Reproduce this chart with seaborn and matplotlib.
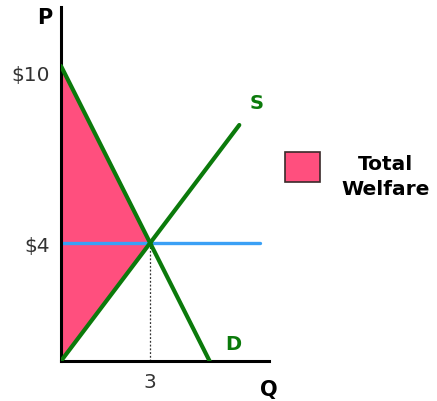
import matplotlib
matplotlib.use("Agg")
import matplotlib.pyplot as plt
import matplotlib.patches as mpatches
import matplotlib.transforms as mtransforms
import seaborn as sns

# Market data
demand_q = [0, 5]
demand_p = [10, 0]
supply_q = [0, 6]
supply_p = [0, 8]
price_q = [0, 6.7]
price_p = [4, 4]
eq_q = 3
eq_p = 4
welfare_q = [0, 0, 3]
welfare_p = [0, 10, 4]
y_ticks = [10, 4]
y_labels = ["$10", "$4"]
x_ticks = [3]
x_labels = ["3"]

sns.set_theme(style="white")
plt.rcParams["font.family"] = ["DejaVu Sans"]

fig = plt.figure(figsize=(4.37, 4.02), dpi=100)
ax = fig.add_axes([61 / 437, 40 / 402, 208 / 437, 354 / 402])

green = "#0b7a0b"
pink = "#ff4f7e"
blue = "#3aa0f5"

ax.fill(welfare_q, welfare_p, color=pink, lw=0, zorder=1)

sns.lineplot(x=price_q, y=price_p, ax=ax, color=blue, lw=2.4, zorder=2)
sns.lineplot(x=demand_q, y=demand_p, ax=ax, color=green, lw=3, zorder=3)
sns.lineplot(x=supply_q, y=supply_p, ax=ax, color=green, lw=3, zorder=3)
ax.plot([eq_q, eq_q], [0, eq_p], color="#333333", lw=0.9, ls=(0, (1.5, 1.5)), zorder=2)

ax.set_xlim(0, 7)
ax.set_ylim(0, 12)
ax.set_xticks(x_ticks)
ax.set_xticklabels(x_labels)
ax.set_yticks(y_ticks)
ax.set_yticklabels(y_labels)
ax.tick_params(axis="y", length=0, labelsize=14.5, colors="#333333", pad=8)
ax.tick_params(axis="x", length=0, labelsize=14.5, colors="#333333", pad=8)
ax.set_xlabel("")
ax.set_ylabel("")

# nudge the price labels slightly downward
top_label = ax.get_yticklabels()[0]
top_label.set_transform(top_label.get_transform() +
                        mtransforms.ScaledTranslation(0, -7 / 100, fig.dpi_scale_trans))
low_label = ax.get_yticklabels()[1]
low_label.set_transform(low_label.get_transform() +
                        mtransforms.ScaledTranslation(0, -1 / 100, fig.dpi_scale_trans))

for side in ["top", "right"]:
    ax.spines[side].set_visible(False)
for side in ["left", "bottom"]:
    ax.spines[side].set_color("black")
    ax.spines[side].set_linewidth(2.2)

ax.text(-0.55, 11.65, "P", fontsize=15, fontweight="bold", color="black",
        ha="center", va="center", clip_on=False)
ax.text(7.0, -0.95, "Q", fontsize=15, fontweight="bold", color="black",
        ha="center", va="center", clip_on=False)
ax.text(6.6, 8.75, "S", fontsize=14, fontweight="bold", color=green, ha="center", va="center")
ax.text(5.8, 0.6, "D", fontsize=14, fontweight="bold", color=green, ha="center", va="center")

# Legend entry
patch = mpatches.Rectangle((285 / 437, 1 - 183 / 402), 35 / 437, 30 / 402,
                           transform=fig.transFigure, facecolor=pink,
                           edgecolor="#3a2a2a", lw=1.2)
fig.patches.append(patch)
fig.text(386 / 437, 1 - 177 / 402, "Total\nWelfare", fontsize=14.5, fontweight="bold",
         color="black", ha="center", va="center", linespacing=1.45)

fig.savefig("out.png", dpi=100)
